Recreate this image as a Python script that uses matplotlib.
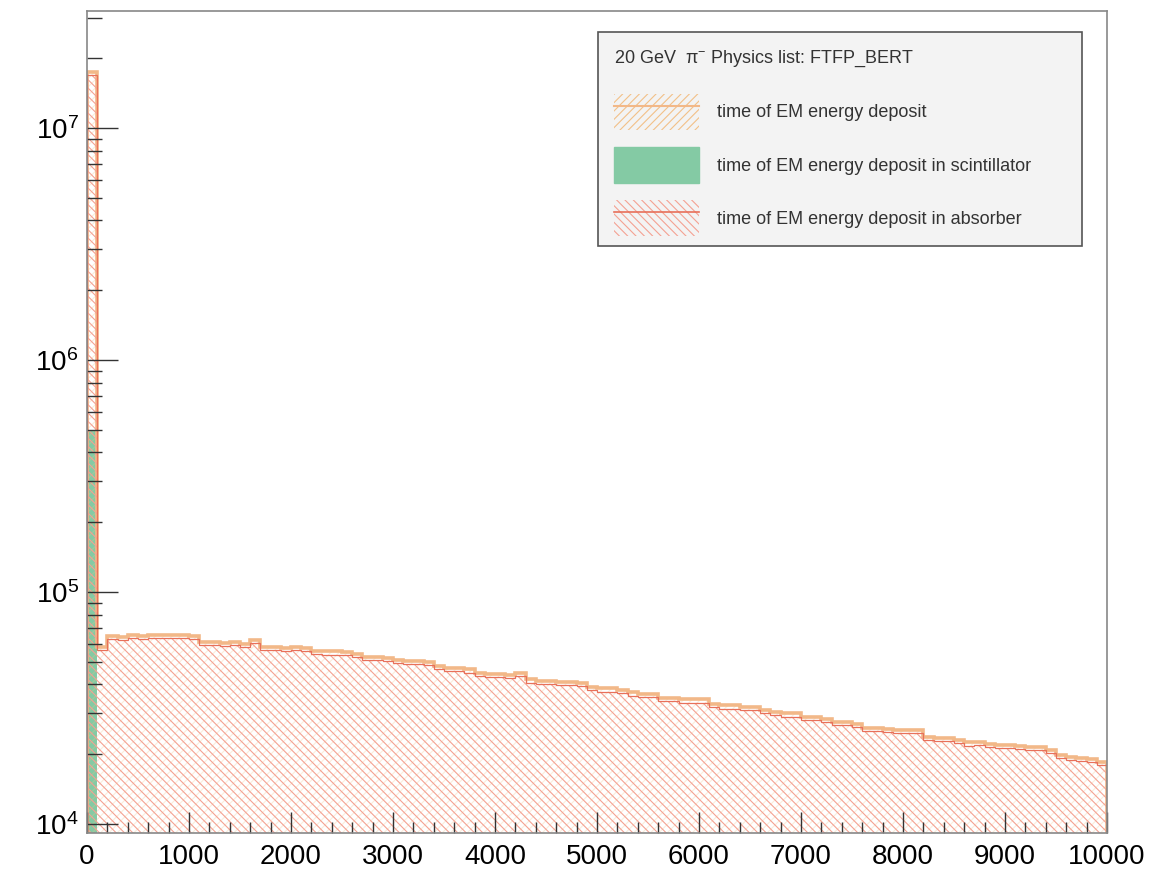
import numpy as np
import matplotlib
matplotlib.use("Agg")
import matplotlib.pyplot as plt
from matplotlib.ticker import MultipleLocator, LogLocator, LogFormatterSciNotation, NullFormatter
from matplotlib.patches import Patch, Rectangle
from matplotlib.lines import Line2D

plt.rcParams['font.family'] = ['Liberation Sans', 'DejaVu Sans']
plt.rcParams['mathtext.default'] = 'regular'
plt.rcParams['hatch.linewidth'] = 0.8

# bin edges: 0..10000 in steps of 100 (100 bins)
bin_edges = list(range(0, 10001, 100))

# time of EM energy deposit, all (counts per bin)
total_dep = [17500e3,
             58e3, 64.5e3, 64e3, 65e3, 64.5e3, 65e3, 65.5e3, 65e3, 65e3, 64.5e3,
             61e3, 61e3, 60.5e3, 61e3, 60e3, 62e3, 58e3, 58e3, 57.5e3, 58e3,
             57.5e3, 56e3, 55.5e3, 55.5e3, 55e3, 54e3, 52.5e3, 52.5e3, 52e3, 51e3,
             50.5e3, 50.5e3, 50e3, 48e3, 47e3, 47e3, 46.5e3, 45e3, 44.5e3, 44.5e3,
             44e3, 45e3, 42e3, 41.5e3, 41.5e3, 41e3, 41e3, 40.5e3, 39e3, 38.5e3,
             38.5e3, 38e3, 37e3, 36.5e3, 36.5e3, 35e3, 35e3, 34.5e3, 34.5e3, 34.5e3,
             33e3, 32.5e3, 32.5e3, 32e3, 32e3, 31e3, 30.5e3, 30e3, 30e3, 29e3,
             29e3, 28.5e3, 27.5e3, 27.5e3, 27e3, 26e3, 26e3, 25.8e3, 25.5e3, 25.5e3,
             25.5e3, 23.7e3, 23.5e3, 23.5e3, 23e3, 22.5e3, 22.5e3, 22.2e3, 22e3, 22e3,
             21.8e3, 21.5e3, 21.5e3, 20.8e3, 19.8e3, 19.5e3, 19.3e3, 19e3, 18.5e3]

# time of EM energy deposit in scintillator (counts per bin)
scintillator = [500e3,
                1.8e3, 1.85e3, 1.9e3, 1.9e3, 1.9e3, 1.9e3, 1.9e3, 1.9e3, 1.9e3, 1.9e3,
                1.9e3, 1.9e3, 1.85e3, 1.85e3, 1.85e3, 1.85e3, 1.8e3, 1.8e3, 1.8e3, 1.75e3,
                1.75e3, 1.75e3, 1.7e3, 1.7e3, 1.7e3, 1.7e3, 1.65e3, 1.65e3, 1.6e3, 1.6e3,
                1.6e3, 1.55e3, 1.55e3, 1.55e3, 1.5e3, 1.5e3, 1.5e3, 1.45e3, 1.45e3, 1.4e3,
                1.4e3, 1.4e3, 1.4e3, 1.35e3, 1.35e3, 1.3e3, 1.3e3, 1.3e3, 1.25e3, 1.25e3,
                1.25e3, 1.2e3, 1.2e3, 1.2e3, 1.15e3, 1.15e3, 1.15e3, 1.1e3, 1.1e3, 1.1e3,
                1.05e3, 1.05e3, 1.05e3, 1.0e3, 1.0e3, 1.0e3, 0.98e3, 0.96e3, 0.94e3, 0.92e3,
                0.9e3, 0.88e3, 0.87e3, 0.86e3, 0.84e3, 0.83e3, 0.81e3, 0.8e3, 0.8e3, 0.78e3,
                0.75e3, 0.74e3, 0.74e3, 0.72e3, 0.7e3, 0.7e3, 0.69e3, 0.68e3, 0.66e3, 0.65e3,
                0.64e3, 0.63e3, 0.62e3, 0.6e3, 0.59e3, 0.58e3, 0.57e3, 0.56e3, 0.56e3]

header = "20 GeV  \u03c0$^{-}$ Physics list: FTFP_BERT"
labels = ["time of EM energy deposit",
          "time of EM energy deposit in scintillator",
          "time of EM energy deposit in absorber"]

total = np.array(total_dep)
absorber = total - np.array(scintillator)
edges = np.array(bin_edges)

c_orange = '#f2c088'
c_orange_line = '#f2b888'
c_green = '#84caa4'
c_red_hatch = '#f4a292'
c_red_line = '#e8705a'

fig = plt.figure(figsize=(11.75, 8.71), dpi=100)
ax = fig.add_axes([87/1175, 1 - 833/871, (1107-87)/1175, (833-11)/871])

# scintillator (green fill)
ax.stairs(scintillator, edges, fill=True, color=c_green, baseline=1)
# total (orange hatch)
ax.stairs(total, edges, fill=True, facecolor='none', edgecolor=c_orange, hatch='////', baseline=1, linewidth=0, alpha=0.3)
ax.stairs(total, edges, fill=False, color=c_orange_line, linewidth=2.6, baseline=1)
# absorber (red hatch)
ax.stairs(absorber, edges, fill=True, facecolor='none', edgecolor=c_red_hatch, hatch='\\\\\\\\', baseline=1, linewidth=0)
ax.stairs(absorber, edges, fill=False, color=c_red_line, linewidth=0.9, baseline=1)

ax.set_yscale('log')
ax.set_xlim(0, 10000)
ax.set_ylim(9.15e3, 3.2e7)

ax.xaxis.set_major_locator(MultipleLocator(1000))
ax.xaxis.set_minor_locator(MultipleLocator(200))
ax.yaxis.set_major_locator(LogLocator(base=10, numticks=10))
ax.yaxis.set_minor_locator(LogLocator(base=10, subs=np.arange(2, 10), numticks=20))
ax.yaxis.set_major_formatter(LogFormatterSciNotation())
ax.yaxis.set_minor_formatter(NullFormatter())

ax.tick_params(axis='both', which='both', direction='in', colors='#333333', labelcolor='black', labelsize=20)
ax.tick_params(axis='x', which='major', length=15, width=1.0, pad=8)
ax.tick_params(axis='x', which='minor', length=8, width=1.0)
ax.tick_params(axis='y', which='major', length=22, width=1.0, pad=6)
ax.tick_params(axis='y', which='minor', length=11, width=1.0)
ax.tick_params(top=False, right=False)
for s in ax.spines.values():
    s.set_color('#888888')
    s.set_linewidth(1.2)

# legend box frame
box = Rectangle((598/1175, 1 - 246/871), 484/1175, 214/871, transform=fig.transFigure,
                facecolor='#f3f3f3', edgecolor='#555555', linewidth=1.2, zorder=4)
fig.add_artist(box)

h_total = (Patch(facecolor='none', edgecolor=c_orange, hatch='////', linewidth=0),
           Line2D([], [], color=c_orange_line, linewidth=1.5))
h_scint = Patch(facecolor=c_green, edgecolor=c_green)
h_abs = (Patch(facecolor='none', edgecolor=c_red_hatch, hatch='\\\\\\\\', linewidth=0),
         Line2D([], [], color=c_red_line, linewidth=1.2))
leg = fig.legend([h_total, h_scint, h_abs], labels, title=header, loc='upper left',
                 bbox_to_anchor=(598/1175, 1 - 246/871, 484/1175, 214/871), mode='expand',
                 fontsize=13, title_fontsize=13,
                 alignment='left', frameon=False,
                 handlelength=4.7, handleheight=2.7, labelspacing=0.95,
                 handletextpad=1.0, borderpad=0.9, borderaxespad=0)
leg.set_zorder(5)
leg._legend_box.sep = leg._legend_box.sep + 5.8
for t in leg.get_texts():
    t.set_color('#333333')
leg.get_title().set_color('#333333')

fig.savefig('out.png', dpi=100)
